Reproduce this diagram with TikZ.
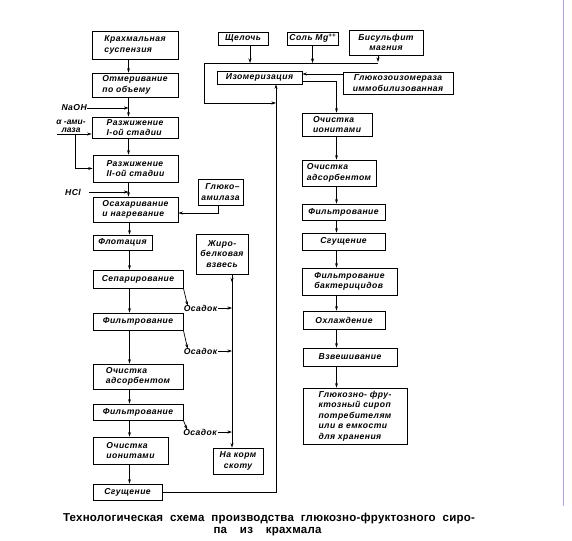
\documentclass[tikz,border=0pt]{standalone}
\usepackage{fontspec}
\setmainfont{Liberation Sans}
\usetikzlibrary{arrows.meta}
\newcommand{\boxfont}{\fontsize{8.6}{10.5}\selectfont\bfseries\itshape\addfontfeatures{LetterSpace=5}}
\newcommand{\smallfont}{\fontsize{8.4}{8.4}\selectfont\bfseries\itshape}
\newcommand{\capfont}{\fontsize{11.5}{13}\selectfont\bfseries\addfontfeatures{LetterSpace=2}}
\begin{document}
\begin{tikzpicture}[x=1pt,y=-1pt,
  box/.style={draw,line width=0.9pt,inner sep=1pt,align=center,font=\boxfont},
  arr/.style={line width=0.7pt,-{Stealth[length=4.5pt,width=3pt]}},
  ln/.style={line width=0.7pt},
  lab/.style={inner sep=0pt,font=\boxfont}]
\useasboundingbox (0,0) rectangle (572,540);
\fill[white] (0,0) rectangle (572,540);
% left column
\node[box,align=left,minimum width=86pt,minimum height=28pt] (k1) at (135,45) {Крахмальная\\суспензия};
\node[box,align=left,minimum width=86pt,minimum height=24pt] (k2) at (135,85) {Отмеривание\\по объему};
\node[box,align=left,minimum width=86pt,minimum height=21pt] (k3) at (135,127.5) {Разжижение\\I-ой стадии};
\node[box,align=left,minimum width=85pt,minimum height=27pt] (k4) at (135.5,168.5) {Разжижение\\II-ой стадии};
\node[box,align=left,minimum width=85pt,minimum height=25pt] (k5) at (135.5,209.5) {Осахаривание\\и нагревание};
\node[box,minimum width=59pt,minimum height=15pt] (k6) at (122.5,242.5) {Флотация};
\node[box,minimum width=90pt,minimum height=18pt] (k7) at (138,279) {Сепарирование};
\node[box,minimum width=90pt,minimum height=17pt] (k8) at (138,321.5) {Фильтрование};
\node[box,align=left,minimum width=90pt,minimum height=25pt] (k9) at (138,376.5) {Очистка\\адсорбентом};
\node[box,minimum width=90pt,minimum height=16pt] (k10) at (138,412) {Фильтрование};
\node[box,align=left,minimum width=75pt,minimum height=27pt] (k11) at (130.5,450.5) {Очистка\\ионитами};
\node[box,minimum width=69pt,minimum height=16pt] (k12) at (127.5,492) {Сгущение};
% side boxes
\node[box,align=right,minimum width=45pt,minimum height=26pt] (ga) at (220.5,192) {Глюко–\\амилаза};
\node[box,minimum width=52pt,minimum height=40pt] (zb) at (222,254) {Жиро-\\белковая\\взвесь};
\node[box,minimum width=50pt,minimum height=26pt] (nk) at (238,461) {На корм\\скоту};
% labels
\node[lab,anchor=east] (naoh) at (87,108) {NaOH};
\node[inner sep=0pt,font=\smallfont,align=center] (aml) at (71,126.5) {α -ами-\\лаза};
\node[lab,anchor=east] (hcl) at (81,192) {HCl};
\node[lab] (os1) at (200.5,308) {Осадок};
\node[lab] (os2) at (200.5,351) {Осадок};
\node[lab] (os3) at (200,432) {Осадок};
% right top
\node[box,minimum width=50pt,minimum height=13pt] (sh) at (243,38.5) {Щелочь};
\node[box,minimum width=51pt,minimum height=13pt] (mg) at (312.5,38.5) {Соль Mg\raisebox{3pt}{\fontsize{6}{6}\selectfont ++}};
\node[box,minimum width=74pt,minimum height=25pt] (bs) at (386,42.5) {Бисульфит\\магния};
\node[box,minimum width=85pt,minimum height=13pt] (iz) at (259.5,77.5) {Изомеризация};
\node[box,minimum width=110pt,minimum height=22pt] (gi) at (398,83) {Глюкозоизомераза\\иммобилизованная};
% right column
\node[box,align=left,minimum width=70pt,minimum height=23pt] (oi) at (337,124.5) {Очистка\\ионитами};
\node[box,align=left,minimum width=74pt,minimum height=26pt] (oa) at (339,173) {Очистка\\адсорбентом};
\node[box,minimum width=83pt,minimum height=16pt] (rf) at (343.5,212) {Фильтрование};
\node[box,minimum width=83pt,minimum height=17pt] (rs) at (343.5,241.5) {Сгущение};
\node[box,align=left,minimum width=95pt,minimum height=27pt] (fb) at (349.5,281.5) {Фильтрование\\бактерицидов};
\node[box,minimum width=82pt,minimum height=18pt] (oh) at (344,320) {Охлаждение};
\node[box,minimum width=94pt,minimum height=18pt] (vw) at (350,357) {Взвешивание};
\node[box,align=left,minimum width=104pt,minimum height=56pt] (gf) at (355,416) {Глюкозно- фру-\\ктозный сироп\\потребителям\\или в емкости\\для хранения};
% coordinates
\coordinate (vx) at (128.5,0);
\coordinate (vx2) at (129.5,0);
\coordinate (vz) at (232,0);
\coordinate (vr) at (276,0);
\coordinate (vrr) at (336.5,0);
\coordinate (am0) at (57,134);
\coordinate (am1) at (75,134);
\coordinate (gat) at (218,213);
\coordinate (bl) at (204,63);
\coordinate (lb) at (204,103);
\coordinate (y74) at (0,74);
\coordinate (y82) at (0,81.5);
% left chain
\draw[arr] (k1.south -| vx) -- (k2.north -| vx);
\draw[arr] (k2.south -| vx) -- (k3.north -| vx);
\draw[arr] (naoh.east) -- (naoh.east -| vx);
\draw[arr] (am0) -- (am0 -| k3.west);
\draw[arr] (am1) |- (k4.west);
\draw[arr] (k3.south -| vx) -- (k4.north -| vx);
\draw[arr] ([xshift=8pt]hcl.east) -- (hcl.east -| vx);
\draw[arr] (k4.south -| vx) -- (k5.north -| vx);
\draw[arr] (ga.south -| gat) -- (gat) -- (gat -| k5.east);
\draw[arr] (k5.south -| vx2) -- (k6.north -| vx2);
\draw[arr] (k6.south -| vx2) -- (k7.north -| vx2);
\draw[arr] (k7.south -| vx2) -- (k8.north -| vx2);
\draw[arr] (k8.south -| vx2) -- (k9.north -| vx2);
\draw[arr] (k9.south -| vx2) -- (k10.north -| vx2);
\draw[arr] (k10.south -| vx2) -- (k11.north -| vx2);
\draw[arr] (k11.south -| vx2) -- (k12.north -| vx2);
% sediment
\draw[arr] (zb.south -| vz) -- ([yshift=-8pt]zb.south -| vz);
\draw[arr] (zb.south -| vz) -- (nk.north -| vz);
\draw[arr] (k7.south east) -- ([xshift=4pt,yshift=-1pt]os1.north west);
\draw[arr] (k8.south east) -- ([xshift=4pt,yshift=-1pt]os2.north west);
\draw[arr] (k10.south east) -- ([xshift=4pt,yshift=-1pt]os3.north west);
\draw[arr] ([xshift=1pt]os1.east) -- (os1.east -| vz);
\draw[arr] ([xshift=1pt]os2.east) -- (os2.east -| vz);
\draw[arr] ([xshift=1pt]os3.east) -- (os3.east -| vz);
% isomerization loop
\draw[ln] ([xshift=-8pt]bs.south |- bl) -- (bl) -- (lb);
\draw[arr] (lb) -- (lb -| vr);
\draw[arr] ([xshift=7pt]sh.south) -- ([xshift=7pt]sh.south |- bl);
\draw[arr] (mg.south) -- (mg.south |- bl);
\draw[arr] ([xshift=-8pt]bs.south) -- ([xshift=-8pt,yshift=1pt]bs.south |- bl);
\draw[arr] (k12.east) -| (iz.south -| vr);
\draw[arr] (gi.west |- y74) -- (iz.east |- y74);
\draw[arr] (iz.east |- y82) -| (oi.north -| vrr);
% right chain
\draw[arr] (oi.south -| vrr) -- (oa.north -| vrr);
\draw[arr] (oa.south -| vrr) -- (rf.north -| vrr);
\draw[arr] (rf.south -| vrr) -- (rs.north -| vrr);
\draw[arr] (rs.south -| vrr) -- (fb.north -| vrr);
\draw[arr] (fb.south -| vrr) -- (oh.north -| vrr);
\draw[arr] (oh.south -| vrr) -- (vw.north -| vrr);
\draw[arr] (vw.south -| vrr) -- (gf.north -| vrr);
% caption
\node[inner sep=0pt,font=\capfont] (cap1) at (269,519) {\makebox[412pt][s]{Технологическая схема производства глюкозно-фруктозного сиро-}};
\node[inner sep=0pt,font=\capfont] (cap2) at (267.5,532) {\makebox[108pt][s]{па из крахмала}};
\draw[blue!35,line width=0.6pt] (563.5,0) -- (563.5,506);
\end{tikzpicture}
\end{document}
